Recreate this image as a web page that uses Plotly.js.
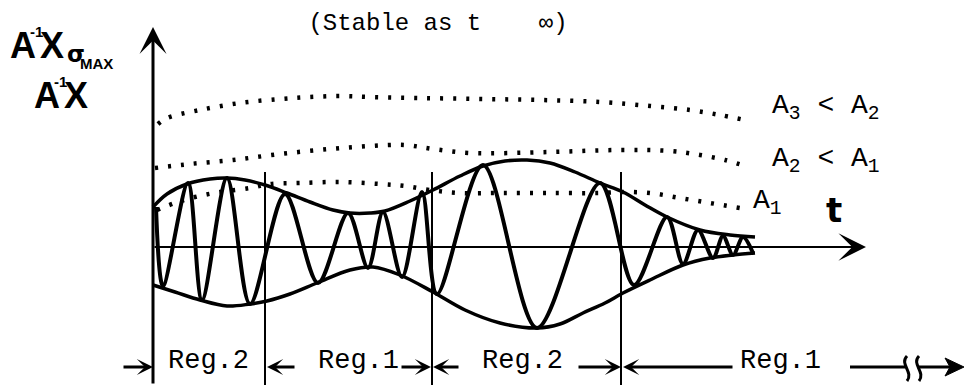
<!DOCTYPE html>
<html>
<head>
<meta charset="utf-8">
<script src="https://cdn.plot.ly/plotly-3.0.1.min.js"></script>
<style>
  html, body { margin: 0; padding: 0; background: #fff; overflow: hidden; }
  #chart { width: 969px; height: 389px; }
</style>
</head>
<body>
<div id="chart"></div>
<script>
// Upper and lower envelope of the response A^-1 X (time t, amplitude)
const upperT = [0, 14, 34, 57, 74, 92, 112, 134, 157, 180, 197, 217, 232, 257, 280, 307, 330, 352, 374, 397, 422, 447, 470, 492, 514, 547, 577, 602];
const upperA = [40, 53, 63, 68, 69, 67, 62, 54, 45, 37, 34, 34, 36, 46, 57, 71, 81, 86, 87, 84, 75, 64, 55, 42, 30, 17, 12, 10];
const lowerT = [0, 22, 47, 74, 97, 114, 137, 164, 197, 220, 247, 280, 312, 347, 384, 407, 430, 452, 470, 497, 530, 557, 580, 602];
const lowerA = [-38, -45, -53, -59, -57, -54, -47, -36, -23, -20, -28, -45, -63, -76, -81, -77, -66, -56, -46, -33, -18, -11, -8, -6];

// Turning points of the oscillating response
const waveT = [3, 10, 35, 49, 74, 97, 132, 165, 195, 215, 230, 249, 269, 284, 330, 384, 447, 481, 514, 530, 545, 560, 570, 580, 590, 600];
const waveA = [40, -39, 64, -53, 69, -57, 53, -36, 34, -21, 35, -30, 55, -47, 82, -81, 64, -38, 30, -17, 17, -11, 11, -8, 10, -6];

// Dotted stability bounds for the three gains
const boundA3T = [5, 14, 47, 87, 127, 157, 187, 217, 267, 327, 387, 447, 497, 537, 567, 592];
const boundA3V = [123, 129, 137, 144, 148, 150, 151, 150, 149, 148, 147, 145, 141, 137, 132, 127];
const boundA2T = [2, 37, 80, 127, 177, 217, 252, 280, 317, 397, 467, 517, 547, 572, 592];
const boundA2V = [79, 83, 87, 93, 98, 101, 102, 98, 94, 95, 97, 96, 92, 87, 81];
const boundA1T = [4, 22, 42, 67, 97, 117, 147, 187, 227, 252, 277, 307, 347, 397, 447, 467, 497, 527, 557, 587];
const boundA1V = [37, 44, 50, 55, 59, 63, 64, 65, 63, 61, 57, 54, 54, 54, 54, 55, 54, 49, 44, 39];

// Region boundaries along t and their names
const regionStart = [0, 112, 279, 468];
const regionNames = ['Reg.2', 'Reg.1', 'Reg.2', 'Reg.1'];
const regionLabelT = [55, 205, 369, 627];

// Bound labels
const boundLabels = ['A<sub>3</sub> < A<sub>2</sub>', 'A<sub>2</sub> < A<sub>1</sub>', 'A<sub>1</sub>'];

// pixel helpers for placing decorations (plot area is 969 x 389, one unit per pixel)
const W = 969, H = 389;
const X0 = 153, Y0 = 247;
const px = v => v - X0;
const py = v => Y0 - v;
const fx = v => v / W;        // paper fraction, horizontal
const fy = v => 1 - v / H;    // paper fraction, vertical

const INK = '#000';
const MONO = 'Liberation Mono, DejaVu Sans Mono, monospace';
const DOTS = { color: INK, width: 4.5, dash: '3px,10px', shape: 'spline' };

const traces = [
  { x: boundA3T, y: boundA3V, mode: 'lines', line: DOTS, hoverinfo: 'skip' },
  { x: boundA2T, y: boundA2V, mode: 'lines', line: DOTS, hoverinfo: 'skip' },
  { x: boundA1T, y: boundA1V, mode: 'lines', line: DOTS, hoverinfo: 'skip' },
  { x: upperT, y: upperA, mode: 'lines', line: { color: INK, width: 3.5, shape: 'spline' }, hoverinfo: 'skip' },
  { x: lowerT, y: lowerA, mode: 'lines', line: { color: INK, width: 3.5, shape: 'spline' }, hoverinfo: 'skip' },
  { x: waveT, y: waveA, mode: 'lines', line: { color: INK, width: 4, shape: 'spline', smoothing: 0.9 }, hoverinfo: 'skip' }
];

const shapes = [];
// region boundary lines
for (let i = 1; i < regionStart.length; i++) {
  shapes.push({ type: 'line', xref: 'x', yref: 'y', x0: regionStart[i], x1: regionStart[i],
    y0: py(385), y1: py(172), line: { color: INK, width: 2 } });
}
// last span arrow: running off to the right, with "break" marks
shapes.push({ type: 'line', xref: 'paper', yref: 'paper', x0: fx(850), x1: fx(905), y0: fy(367), y1: fy(367), line: { color: INK, width: 3 } });
shapes.push({ type: 'line', xref: 'paper', yref: 'paper', x0: fx(918), x1: fx(952), y0: fy(367), y1: fy(367), line: { color: INK, width: 3 } });
shapes.push({ type: 'path', xref: 'paper', yref: 'paper',
  path: `M ${fx(964)},${fy(367)} L ${fx(945)},${fy(358)} L ${fx(950)},${fy(367)} L ${fx(945)},${fy(376)} Z`,
  fillcolor: INK, line: { color: INK, width: 1 } });
shapes.push({ type: 'path', xref: 'paper', yref: 'paper',
  path: `M ${fx(907)},${fy(356)} C ${fx(899)},${fy(364)} ${fx(914)},${fy(372)} ${fx(907)},${fy(381)}`,
  line: { color: INK, width: 3 } });
shapes.push({ type: 'path', xref: 'paper', yref: 'paper',
  path: `M ${fx(919)},${fy(356)} C ${fx(911)},${fy(364)} ${fx(926)},${fy(372)} ${fx(919)},${fy(381)}`,
  line: { color: INK, width: 3 } });

function arrow(hx, hy, tx, ty, w, s) {
  return { x: hx, y: hy, ax: tx, ay: ty, xref: 'x', yref: 'y', axref: 'x', ayref: 'y',
    text: '', showarrow: true, arrowhead: 3, arrowwidth: w, arrowsize: s, arrowcolor: INK, standoff: 0, startstandoff: 0 };
}

const annotations = [];
// axes
annotations.push(arrow(0, py(27), 0, py(385), 3, 1.5));
annotations.push(arrow(px(866), 0, 0, 0, 2, 2.3));

// region span arrows
const spanArrows = [[153, 122], [267, 296], [431, 400], [433, 460], [621, 577], [623, 734]];
spanArrows.forEach(([h, t]) => annotations.push(arrow(px(h), py(367), px(t), py(367), 3, 0.9)));

// region names
regionNames.forEach((name, i) => annotations.push({
  x: regionLabelT[i], y: py(361), xref: 'x', yref: 'y', text: name, showarrow: false,
  xanchor: 'center', yanchor: 'middle', font: { family: MONO, size: 27, color: INK }
}));

// bound labels
const boundLabelPos = [[770, 107], [770, 160], [751, 202]];
boundLabels.forEach((txt, i) => annotations.push({
  x: px(boundLabelPos[i][0]), y: py(boundLabelPos[i][1]), xref: 'x', yref: 'y', text: txt, showarrow: false,
  xanchor: 'left', yanchor: 'middle', font: { family: MONO, size: 28, color: INK }
}));

// axis labels
function word(txt, x, y, size, family, anchor) {
  return { x: px(x), y: py(y), xref: 'x', yref: 'y', text: '<b>' + txt + '</b>', showarrow: false,
    xanchor: anchor || 'left', yanchor: 'middle', font: { family: family || 'Liberation Sans', size: size, color: INK } };
}
annotations.push(word('t', 834, 210, 34, 'DejaVu Sans', 'center'));
// A^-1 X_sigma_MAX
annotations.push(word('A', 8, 45, 36));
annotations.push(word('-1', 28, 31, 15));
annotations.push(word('X', 38, 45, 36));
annotations.push(word('σ', 65, 54, 23, 'DejaVu Sans'));
annotations.push(word('MAX', 78, 63, 15));
// A^-1 X
annotations.push(word('A', 32, 95, 36));
annotations.push(word('-1', 52, 81, 15));
annotations.push(word('X', 62, 95, 36));

const layout = {
  width: W, height: H,
  margin: { l: 0, r: 0, t: 0, b: 0 },
  paper_bgcolor: '#fff', plot_bgcolor: '#fff',
  showlegend: false,
  title: { text: '(Stable as t    ∞)', x: 438 / W, xanchor: 'center', y: 1 - 22 / H, yanchor: 'middle',
    font: { family: MONO, size: 24, color: INK } },
  xaxis: { range: [px(0), px(W)], visible: false, fixedrange: true },
  yaxis: { range: [py(H), py(0)], visible: false, fixedrange: true },
  shapes: shapes,
  annotations: annotations
};

Plotly.newPlot('chart', traces, layout, { staticPlot: true, displayModeBar: false });
</script>
</body>
</html>
